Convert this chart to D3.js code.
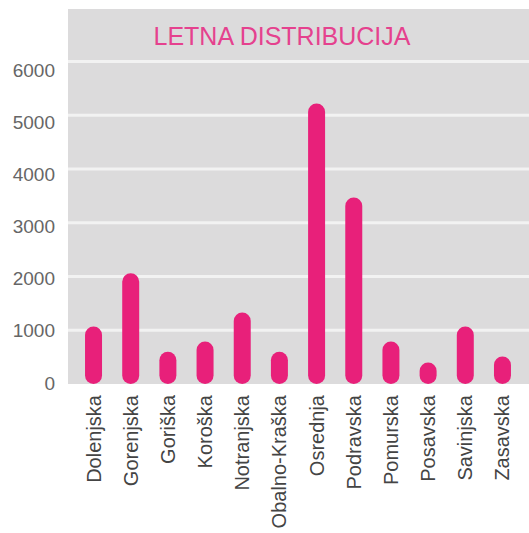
<!DOCTYPE html>
<html>
<head>
<meta charset="utf-8">
<script src="https://cdn.jsdelivr.net/npm/d3@7"></script>
<style>
  body { margin: 0; background: #fff; }
  svg text { font-family: "Liberation Sans", Arial, Helvetica, sans-serif; }
</style>
</head>
<body>
<svg id="chart" width="529" height="533"></svg>
<script>
/* -------------------------------------------------------------------------- */
// data
let regions = ['Dolenjska', 'Gorenjska', 'Goriška', 'Koroška', 'Notranjska', 'Obalno-Kraška',
               'Osrednja', 'Podravska', 'Pomurska', 'Posavska', 'Savinjska', 'Zasavska'];
let visits  = [1070, 2060, 600, 790, 1330, 600, 5220, 3470, 790, 400, 1070, 510];
let yticks  = [0, 1000, 2000, 3000, 4000, 5000, 6000];
let title   = 'LETNA DISTRIBUCIJA';

/* -------------------------------------------------------------------------- */
let pink = '#e8207a';
let svg = d3.select('#chart');

let x = d3.scaleBand()
          .domain(regions)
          .range([75, 521])
          .paddingInner(0.543)
          .paddingOuter(0.27);

let y = d3.scaleLinear()
          .domain([0, 6000])
          .range([384, 61.5]);

// tick labels sit a little lower than the grid lines in the original
let ylab = d3.scaleLinear()
          .domain([0, 6000])
          .range([383, 70]);

// background panel
svg.append('rect')
   .attr('x', 68).attr('y', 9)
   .attr('width', 529 - 68).attr('height', y(0) - 9)
   .attr('fill', '#dcdbdc');

// grid lines
svg.append('g').selectAll('line')
   .data(yticks.filter(d => d > 0))
   .join('line')
   .attr('x1', 68).attr('x2', 529)
   .attr('y1', d => y(d)).attr('y2', d => y(d))
   .attr('stroke', '#f2f2f2')
   .attr('stroke-width', 3);

// y tick labels
svg.append('g').selectAll('text')
   .data(yticks)
   .join('text')
   .attr('x', 55)
   .attr('y', d => ylab(d))
   .attr('dy', '0.35em')
   .attr('text-anchor', 'end')
   .attr('font-size', 19)
   .attr('fill', '#666')
   .text(d => d);

// bars, rounded at both ends
let bw = x.bandwidth();
svg.append('g').selectAll('rect')
   .data(regions)
   .join('rect')
   .attr('x', d => x(d))
   .attr('y', (d, i) => y(visits[i]))
   .attr('width', bw)
   .attr('height', (d, i) => y(0) - y(visits[i]))
   .attr('rx', bw / 2)
   .attr('fill', pink);

// x labels, vertical
svg.append('g').selectAll('text')
   .data(regions)
   .join('text')
   .attr('transform', d => 'translate(' + (x(d) + bw / 2) + ',395) rotate(-90)')
   .attr('dy', '0.35em')
   .attr('text-anchor', 'end')
   .attr('font-size', 20)
   .attr('fill', '#444')
   .text(d => d);

// title
svg.append('text')
   .attr('x', 282).attr('y', 45)
   .attr('text-anchor', 'middle')
   .attr('font-size', 25)
   .attr('fill', '#e5418e')
   .text(title);
</script>
</body>
</html>
